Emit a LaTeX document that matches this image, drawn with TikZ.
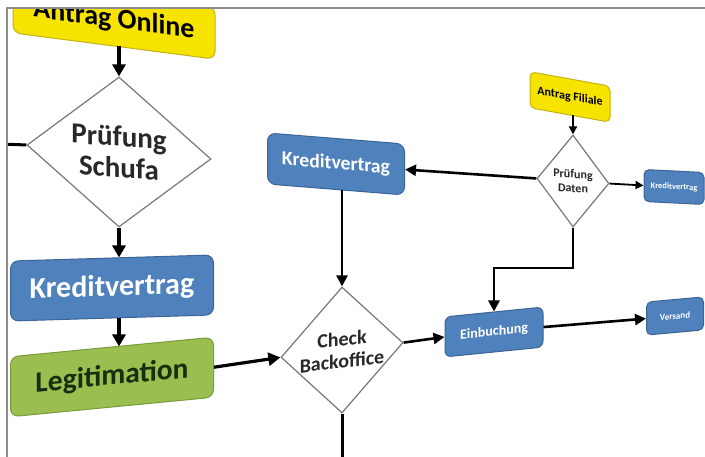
\documentclass[tikz,border=0pt]{standalone}
\usepackage{fontspec}
\setmainfont{Carlito}
\usetikzlibrary{shapes.geometric,arrows.meta}
\definecolor{ylw}{RGB}{246,228,0}
\definecolor{ylwd}{RGB}{196,178,20}
\definecolor{blu}{RGB}{79,129,189}
\definecolor{blud}{RGB}{60,100,150}
\definecolor{grn}{RGB}{155,190,80}
\definecolor{grnd}{RGB}{120,155,60}
\definecolor{frm}{RGB}{140,140,140}
\definecolor{dtxt}{RGB}{40,40,40}
\tikzset{
  box/.style={rectangle,rounded corners=8pt,inner sep=0pt,align=center,font=\bfseries,line width=1pt},
  ybox/.style={box,fill=ylw,draw=ylwd,text=black},
  bbox/.style={box,fill=blu,draw=blud,text=white},
  gbox/.style={box,fill=grn,draw=grnd,text={rgb,255:red,25;green,45;blue,15}},
  dec/.style={diamond,draw={rgb,255:red,120;green,120;blue,120},fill=white,line width=1.2pt,inner sep=0pt,align=center,font=\bfseries,text=dtxt},
  bigarr/.style={line width=3.2pt,-{Triangle[length=12pt,width=13pt]}},
  midarr/.style={line width=2.6pt,-{Triangle[length=11pt,width=11pt]}},
  smallarr/.style={line width=1.8pt,-{Triangle[length=8pt,width=8pt]}},
  plain/.style={line width=3pt},
}
\begin{document}
\begin{tikzpicture}[x=1pt,y=-1pt]
\useasboundingbox[fill=white] (0,0) rectangle (705,457);
\begin{scope}
\clip (8,9) rectangle (705,457);
% nodes
\node[ybox,yslant=-0.13,minimum width=202pt,minimum height=52pt,font=\fontsize{28}{30}\bfseries] (ao) at (114,20) {Antrag Online};
\node[dec,yslant=-0.076,minimum width=184pt,minimum height=150pt,font=\fontsize{29}{31}\bfseries] (ps) at (119,152) {Prüfung\\Schufa};
\node[bbox,yslant=0.03,minimum width=203pt,minimum height=60pt,font=\fontsize{30}{32}\bfseries] (kv1) at (112,288) {Kreditvertrag};
\node[gbox,yslant=0.096,minimum width=203pt,minimum height=60pt,font=\fontsize{29.5}{31}\bfseries] (leg) at (112,377) {Legitimation};
\node[dec,yslant=0.12,minimum width=122pt,minimum height=126pt,font=\fontsize{20}{22}\bfseries] (cb) at (342,350) {Check\\Backoffice};
\node[bbox,yslant=-0.08,minimum width=137pt,minimum height=51pt,font=\fontsize{19.7}{21}\bfseries] (kv2) at (336,164) {Kreditvertrag};
\node[ybox,yslant=-0.18,minimum width=80pt,minimum height=36pt,rounded corners=5pt,font=\fontsize{12}{13}\bfseries] (af) at (570,97) {Antrag Filiale};
\node[dec,yslant=-0.07,minimum width=72pt,minimum height=92pt,font=\fontsize{12}{14}\bfseries] (pd) at (573,181) {Prüfung\\Daten};
\node[bbox,yslant=-0.05,minimum width=60pt,minimum height=32pt,rounded corners=5pt,font=\fontsize{8.5}{10}\bfseries] (kv3) at (674,187) {Kreditvertrag};
\node[bbox,yslant=0.1,minimum width=98pt,minimum height=40pt,rounded corners=6pt,font=\fontsize{14}{16}\bfseries] (ein) at (494,332) {Einbuchung};
\node[bbox,yslant=0.09,minimum width=57pt,minimum height=33pt,rounded corners=5pt,font=\fontsize{9}{11}\bfseries] (vs) at (675,316) {Versand};
% free ends
\coordinate (psl) at (0,144);
\coordinate (cbb) at (342,470);
\coordinate (knee) at (573,268);
% connectors
\draw[bigarr] (ps.north |- ao.south) -- (ps.north);
\draw[plain] (ps.west) -- (psl);
\draw[bigarr] (ps.south) -- (ps.south |- kv1.north);
\draw[bigarr] (ps.south |- kv1.south) -- (ps.south |- leg.north);
\draw[bigarr] (leg.east) -- (cb.west);
\draw[midarr] (cb.north |- kv2.south) -- (cb.north);
\draw[plain] (cb.south) -- (cbb);
\draw[midarr] (cb.east) -- (ein.west);
\draw[midarr] (ein.east) -- (vs.west);
\draw[midarr] (pd.west) -- (kv2.east);
\draw[smallarr] (pd.north |- af.south) -- (pd.north);
\draw[smallarr] (pd.east) -- (kv3.west);
\draw[midarr] (pd.south) -- (knee) -| (ein.north);
\end{scope}
% frame
\draw[frm,line width=2pt] (705,8) -- (7,8) -- (7,457);
\end{tikzpicture}
\end{document}
